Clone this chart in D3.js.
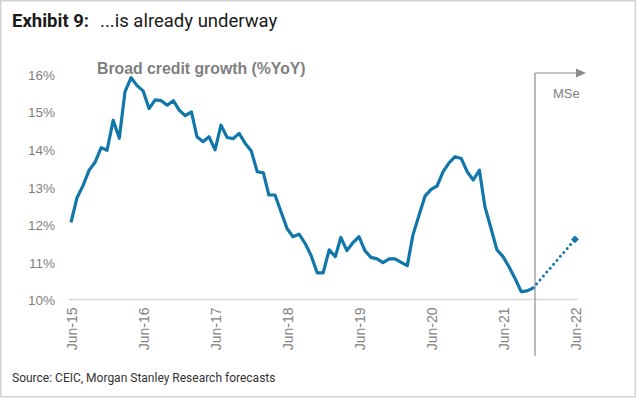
<!DOCTYPE html>
<html>
<head>
<meta charset="utf-8">
<script src="https://cdn.jsdelivr.net/npm/d3@7"></script>
<style>
  body { margin: 0; background: #fff; }
  svg { display: block; }
</style>
</head>
<body>
<div id="chart"></div>
<script>
const svgWidth = 640;
const svgHeight = 398;

// monthly broad credit growth, %YoY, starting Jun-15
const startMonth = "2015-06";
const creditGrowth = [
  12.05, 12.7, 13.03, 13.44, 13.65, 14.04, 13.97, 14.77, 14.29, 15.53,
  15.9, 15.69, 15.55, 15.08, 15.31, 15.29, 15.17, 15.29, 15.04, 14.89,
  14.99, 14.33, 14.2, 14.33, 13.98, 14.64, 14.31, 14.28, 14.42, 14.15,
  13.96, 13.4, 13.37, 12.78, 12.78, 12.34, 11.89, 11.67, 11.74, 11.49,
  11.17, 10.71, 10.71, 11.32, 11.14, 11.65, 11.3, 11.51, 11.67, 11.3,
  11.12, 11.08, 10.98, 11.08, 11.08, 10.99, 10.9, 11.72, 12.25, 12.75,
  12.93, 13.02, 13.4, 13.64, 13.8, 13.75, 13.4, 13.18, 13.44, 12.47,
  11.89, 11.32, 11.14, 10.87, 10.56, 10.21, 10.23, 10.31
];

// MS estimate
const forecastMonths = ["2021-11", "2022-06"];
const forecastValues = [10.31, 11.6];

const xTickMonths = ["2015-06", "2016-06", "2017-06", "2018-06", "2019-06", "2020-06", "2021-06", "2022-06"];
const xTickLabels = ["Jun-15", "Jun-16", "Jun-17", "Jun-18", "Jun-19", "Jun-20", "Jun-21", "Jun-22"];
const yTicks = [10, 11, 12, 13, 14, 15, 16];

const parseMonth = d3.timeParse("%Y-%m");
const blue = "#1177ab";
const grey = "#7f7f7f";

const svg = d3.select("#chart")
  .append("svg")
  .attr("width", svgWidth)
  .attr("height", svgHeight);

// frame
svg.append("rect")
  .attr("x", 0.75).attr("y", 0.75)
  .attr("width", 634.5).attr("height", 396)
  .attr("fill", "#fff")
  .attr("stroke", "#d2d2d2")
  .attr("stroke-width", 1.5);

const start = parseMonth(startMonth);
const series = creditGrowth.map((v, i) => ({ date: d3.timeMonth.offset(start, i), value: v }));
const forecast = forecastMonths.map((m, i) => ({ date: parseMonth(m), value: forecastValues[i] }));

const x = d3.scaleTime()
  .domain([parseMonth("2015-06"), parseMonth("2022-06")])
  .range([71, 575]);

const y = d3.scaleLinear()
  .domain([10, 16])
  .range([299.5, 74]);

// baseline
svg.append("line")
  .attr("x1", 69).attr("x2", 578)
  .attr("y1", y(10)).attr("y2", y(10))
  .attr("stroke", "#d9d9d9")
  .attr("stroke-width", 1.5);

// y axis
const yAxis = svg.append("g")
  .attr("transform", "translate(55,0)")
  .call(d3.axisLeft(y).tickValues(yTicks).tickSize(0).tickPadding(0).tickFormat(d => d + "%"));
yAxis.select(".domain").remove();
yAxis.selectAll("text")
  .attr("fill", grey)
  .style("font-family", "'Liberation Sans', Arial, sans-serif")
  .style("font-size", "13.5px")
  .attr("dy", "0.4em");

// x axis
const tickDates = xTickMonths.map(parseMonth);
const xAxis = svg.append("g")
  .attr("transform", `translate(0, ${y(10)})`)
  .call(d3.axisBottom(x).tickValues(tickDates).tickSize(0)
    .tickFormat((d, i) => xTickLabels[i]));
xAxis.select(".domain").remove();
xAxis.selectAll("text")
  .attr("fill", grey)
  .style("font-family", "'Liberation Sans', Arial, sans-serif")
  .style("font-size", "14px")
  .attr("text-anchor", "end")
  .attr("transform", "rotate(-90)")
  .attr("x", -8)
  .attr("y", 0)
  .attr("dy", "0.4em");

// forecast divider with arrow
const divX = 535;
svg.append("line")
  .attr("x1", divX).attr("x2", divX)
  .attr("y1", 73).attr("y2", 356)
  .attr("stroke", "#8c8c8c")
  .attr("stroke-width", 1.2);
svg.append("line")
  .attr("x1", divX).attr("x2", 578)
  .attr("y1", 73).attr("y2", 73)
  .attr("stroke", "#8c8c8c")
  .attr("stroke-width", 1.2);
svg.append("path")
  .attr("d", "M576,68.5 L586,73 L576,77.5 Z")
  .attr("fill", "#8c8c8c");
svg.append("text")
  .attr("x", 553).attr("y", 97.5)
  .attr("fill", grey)
  .style("font-family", "'Liberation Sans', Arial, sans-serif")
  .style("font-size", "13px")
  .text("MSe");

const line = d3.line()
  .x(d => x(d.date))
  .y(d => y(d.value));

svg.append("path")
  .datum(series)
  .attr("d", line)
  .attr("fill", "none")
  .attr("stroke", blue)
  .attr("stroke-width", 3.2)
  .attr("stroke-linejoin", "round");

svg.append("path")
  .datum(forecast)
  .attr("d", line)
  .attr("fill", "none")
  .attr("stroke", blue)
  .attr("stroke-width", 3)
  .attr("stroke-linecap", "round")
  .attr("stroke-dasharray", "0 5.2");

const last = forecast[forecast.length - 1];
svg.append("path")
  .attr("d", d3.symbol(d3.symbolDiamond2, 40)())
  .attr("transform", `translate(${x(last.date)},${y(last.value)})`)
  .attr("fill", blue);

// chart title
svg.append("text")
  .attr("x", 97).attr("y", 74)
  .attr("fill", "#808080")
  .style("font-family", "'Liberation Sans', Arial, sans-serif")
  .style("font-size", "15.8px")
  .style("font-weight", "bold")
  .text("Broad credit growth (%YoY)");

// header
const header = svg.append("text")
  .attr("x", 12).attr("y", 26.5)
  .attr("fill", "#1a1a1a")
  .style("font-family", "Roboto, sans-serif")
  .style("font-size", "18.5px");
header.append("tspan").style("font-weight", "bold").text("Exhibit 9:");
header.append("tspan").attr("dx", 11).text("...is already underway");

// source
svg.append("text")
  .attr("x", 12).attr("y", 382)
  .attr("fill", "#333")
  .style("font-family", "Roboto, sans-serif")
  .style("font-size", "12px")
  .text("Source: CEIC, Morgan Stanley Research forecasts");
</script>
</body>
</html>
